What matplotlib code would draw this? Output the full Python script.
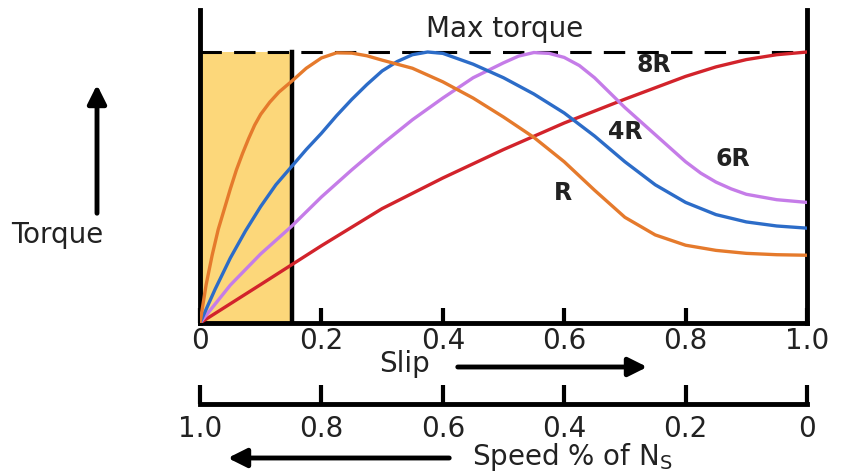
import matplotlib.pyplot as plt

plt.rcParams['font.family'] = ['DejaVu Sans']

# slip values and torque (fraction of max)
slip_r = [0, 0.01, 0.02, 0.03, 0.04, 0.05, 0.06, 0.07, 0.08, 0.09, 0.1, 0.115, 0.13,
          0.15, 0.175, 0.2, 0.225, 0.25, 0.275, 0.3, 0.35, 0.4, 0.45, 0.5, 0.55, 0.6,
          0.65, 0.7, 0.75, 0.8, 0.85, 0.9, 0.95, 1.0]
torque_r = [0, 0.14, 0.25, 0.345, 0.42, 0.495, 0.565, 0.625, 0.68, 0.73, 0.77, 0.815,
            0.852, 0.89, 0.94, 0.978, 0.997, 0.996, 0.986, 0.97, 0.94, 0.89, 0.83, 0.76,
            0.685, 0.595, 0.49, 0.39, 0.325, 0.287, 0.268, 0.257, 0.252, 0.25]

slip_4r = [0, 0.025, 0.05, 0.075, 0.1, 0.125, 0.15, 0.175, 0.2, 0.225, 0.25, 0.275, 0.3,
           0.325, 0.35, 0.375, 0.4, 0.45, 0.5, 0.55, 0.6, 0.65, 0.7, 0.75, 0.8, 0.85,
           0.9, 0.95, 1.0]
torque_4r = [0, 0.125, 0.24, 0.34, 0.43, 0.51, 0.575, 0.64, 0.70, 0.765, 0.825, 0.88,
             0.93, 0.965, 0.99, 1.0, 0.995, 0.955, 0.905, 0.845, 0.775, 0.69, 0.595,
             0.51, 0.445, 0.40, 0.373, 0.358, 0.35]

slip_6r = [0, 0.05, 0.1, 0.15, 0.2, 0.25, 0.3, 0.35, 0.4, 0.45, 0.5, 0.525, 0.55, 0.575,
           0.6, 0.625, 0.65, 0.675, 0.7, 0.725, 0.75, 0.775, 0.8, 0.825, 0.85, 0.875,
           0.9, 0.95, 1.0]
torque_6r = [0, 0.14, 0.255, 0.355, 0.465, 0.565, 0.66, 0.75, 0.83, 0.905, 0.96, 0.985,
             0.998, 0.995, 0.98, 0.95, 0.905, 0.85, 0.795, 0.745, 0.695, 0.645, 0.595,
             0.553, 0.52, 0.495, 0.475, 0.455, 0.445]

slip_8r = [0, 0.1, 0.2, 0.3, 0.4, 0.5, 0.6, 0.7, 0.8, 0.85, 0.9, 0.95, 1.0]
torque_8r = [0, 0.142, 0.285, 0.422, 0.535, 0.64, 0.738, 0.826, 0.91, 0.945, 0.972,
             0.99, 1.0]

slip_ticks = [0, 0.2, 0.4, 0.6, 0.8, 1.0]
slip_labels = ['0', '0.2', '0.4', '0.6', '0.8', '1.0']
speed_labels = ['1.0', '0.8', '0.6', '0.4', '0.2', '0']
stable_slip = 0.151

fig = plt.figure(figsize=(8.54, 4.73), dpi=100)
ax = fig.add_axes([200 / 854, 150 / 473, 607 / 854, 313 / 473])
ax.set_xlim(0, 1)
ax.set_ylim(0, 313 / 271)

ax.fill_between([0, stable_slip], 0, 1, color='#FCD77A', lw=0, zorder=1)
ax.plot([stable_slip, stable_slip], [0, 1], color='black', lw=3.2, zorder=2)
ax.plot([0, 1], [1, 1], color='black', lw=2.2, dashes=(7, 4), zorder=2)

ax.plot(slip_8r, torque_8r, color='#D2232B', lw=2.4, zorder=3)
ax.plot(slip_6r, torque_6r, color='#C57CE8', lw=2.4, zorder=3)
ax.plot(slip_4r, torque_4r, color='#2C6CC8', lw=2.4, zorder=3)
ax.plot(slip_r, torque_r, color='#E57A2C', lw=2.4, zorder=3)

txt = '#222222'
lab = dict(fontsize=17, fontweight='bold', color=txt, ha='center', va='center')
ax.text(0.748, 0.952, '8R', **lab)
ax.text(0.70, 0.705, '4R', **lab)
ax.text(0.878, 0.605, '6R', **lab)
ax.text(0.598, 0.48, 'R', **lab)
ax.text(0.502, 1.085, 'Max torque', fontsize=20, color=txt, ha='center', va='center')

for side in ['left', 'right', 'bottom']:
    ax.spines[side].set_linewidth(3.5)
ax.spines['top'].set_visible(False)
ax.set_yticks([])
ax.set_xticks(slip_ticks, slip_labels)
ax.tick_params(axis='x', direction='in', length=11, width=3, pad=3,
               labelsize=20, labelcolor=txt)

# speed scale under the slip scale
ax2 = fig.add_axes([200 / 854, 69 / 473, 607 / 854, 0.01])
ax2.set_xlim(0, 1)
for side in ['left', 'right', 'top']:
    ax2.spines[side].set_visible(False)
ax2.spines['bottom'].set_linewidth(3.5)
ax2.set_yticks([])
ax2.set_xticks(slip_ticks, speed_labels)
ax2.tick_params(axis='x', direction='in', length=14, width=3, pad=8,
                labelsize=20, labelcolor=txt)

arrow = dict(arrowstyle='-|>', lw=3.5, color='black', mutation_scale=28)
fig.text(405 / 854, 1 - 364 / 473, 'Slip', fontsize=20, color=txt,
         ha='center', va='center')
ax.annotate('', xy=(650 / 854, 1 - 367 / 473), xytext=(455 / 854, 1 - 367 / 473),
            xycoords='figure fraction', arrowprops=arrow)
fig.text(472 / 854, 1 - 457 / 473, r'Speed % of $\mathregular{N_S}$', fontsize=20,
         color=txt, ha='left', va='center')
ax.annotate('', xy=(225 / 854, 1 - 458 / 473), xytext=(452 / 854, 1 - 458 / 473),
            xycoords='figure fraction', arrowprops=arrow)
fig.text(57 / 854, 1 - 235 / 473, 'Torque', fontsize=20, color=txt,
         ha='center', va='center')
ax.annotate('', xy=(97 / 854, 1 - 82 / 473), xytext=(97 / 854, 1 - 216 / 473),
            xycoords='figure fraction', arrowprops=arrow)

fig.savefig('out.png', dpi=100)
